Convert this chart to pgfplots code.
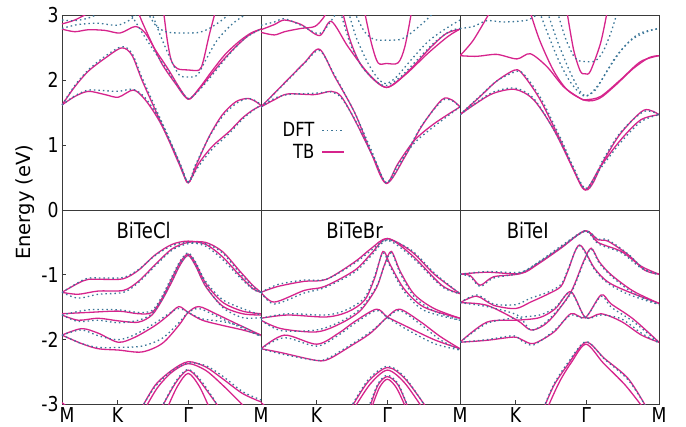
\documentclass[border=0pt]{standalone}
\usepackage{pgfplots}
\pgfplotsset{compat=1.18}
\usepackage{fontspec}
\setmainfont{DejaVu Sans}[FakeStretch=0.84]
\newfontfamily\labelfont{DejaVu Sans}
\definecolor{tbc}{HTML}{D6248C}
\definecolor{dftc}{HTML}{3B7698}
\definecolor{axc}{HTML}{3A3A3A}
\pgfplotsset{
  tb/.style={no markers, smooth, tension=0.5, line width=1.3pt, color=tbc},
  dft/.style={no markers, smooth, tension=0.5, line width=1.3pt, color=dftc, dash pattern=on 1.5pt off 3pt},
  panel/.style={scale only axis, width=199pt, height=389pt,
    xmin=0, xmax=1, ymin=-3, ymax=3,
    axis line style={color=axc, line width=0.8pt},
    tick style={color=axc, line width=0.7pt},
    tick align=inside, major tick length=4pt,
    xtick pos=bottom, ytick pos=left,
    ticklabel style={font=\fontsize{20.5}{22}\selectfont},
    xticklabel style={yshift=0pt},
    extra y ticks={0}, extra y tick labels={},
    extra y tick style={grid=major, major grid style={color=axc, line width=0.8pt}, tick style={draw=none}},
    clip=true,
    legend image code/.code={\draw[##1] (0pt,0pt) -- (22pt,0pt);},
  }
}
\begin{document}
\begin{tikzpicture}
\useasboundingbox (0,0) rectangle (686pt,427pt);
%================ Panel 1: BiTeCl ================
\begin{axis}[panel, at={(62pt,22.5pt)}, anchor=south west,
  xtick={0,0.279,0.634,1}, xticklabels={\hspace*{10pt}M,K,Γ,M},
  ytick={-3,-2,-1,0,1,2,3}, yticklabels={-3,-2,-1,0,1,2,3},
  ylabel={\labelfont\fontsize{19.5}{22}\selectfont Energy (eV)},
  ylabel style={at={(rel axis cs:0,0.52)}, anchor=center, yshift=37pt}]
% TB conduction
\addplot[tb] coordinates {(0,1.62)(0.064,1.90)(0.132,2.14)(0.216,2.34)(0.300,2.50)(0.351,2.39)(0.401,2.01)(0.469,1.54)(0.536,1.08)(0.587,0.72)(0.634,0.42)(0.671,0.67)(0.739,1.13)(0.806,1.47)(0.874,1.67)(0.933,1.72)(0.975,1.67)(1,1.61)};
\addplot[tb] coordinates {(0,1.62)(0.064,1.75)(0.132,1.83)(0.216,1.78)(0.283,1.74)(0.359,1.85)(0.418,1.70)(0.486,1.39)(0.553,0.98)(0.604,0.62)(0.634,0.42)(0.688,0.72)(0.755,0.98)(0.840,1.21)(0.907,1.42)(0.958,1.54)(1,1.61)};
\addplot[tb] coordinates {(0,2.79)(0.064,2.75)(0.132,2.78)(0.216,2.77)(0.292,2.73)(0.368,2.83)(0.418,2.73)(0.469,2.47)(0.536,2.16)(0.587,1.90)(0.634,1.71)(0.671,1.80)(0.739,2.05)(0.806,2.30)(0.874,2.52)(0.941,2.70)(1,2.79)};
\addplot[tb] coordinates {(0.384,3.05)(0.40,2.92)(0.452,2.57)(0.503,2.25)(0.57,1.95)(0.634,1.71)(0.69,1.88)(0.755,2.15)(0.82,2.40)(0.89,2.60)(0.95,2.73)(1,2.79)};
\addplot[tb] coordinates {(0.511,3.05)(0.53,2.6)(0.55,2.3)(0.58,2.18)(0.634,2.16)(0.69,2.16)(0.71,2.3)(0.74,2.7)(0.77,3.05)};
\addplot[tb] coordinates {(0,2.87)(0.064,2.93)(0.14,3.05)};
% TB valence
\addplot[tb] coordinates {(0,-1.27)(0.081,-1.13)(0.132,-1.07)(0.216,-1.07)(0.309,-1.06)(0.384,-0.93)(0.469,-0.69)(0.553,-0.53)(0.634,-0.48)(0.722,-0.53)(0.806,-0.72)(0.890,-1.00)(0.958,-1.21)(1,-1.27)};
\addplot[tb] coordinates {(0,-1.27)(0.081,-1.30)(0.182,-1.25)(0.309,-1.24)(0.384,-1.10)(0.469,-0.84)(0.553,-0.60)(0.634,-0.50)(0.722,-0.50)(0.806,-0.64)(0.890,-0.93)(0.958,-1.16)(1,-1.27)};
\addplot[tb] coordinates {(0,-1.60)(0.132,-1.58)(0.283,-1.56)(0.384,-1.60)(0.452,-1.58)(0.503,-1.36)(0.553,-1.05)(0.595,-0.80)(0.634,-0.68)(0.671,-0.82)(0.722,-1.13)(0.806,-1.42)(0.907,-1.56)(1,-1.60)};
\addplot[tb] coordinates {(0,-1.62)(0.081,-1.70)(0.182,-1.67)(0.283,-1.71)(0.384,-1.73)(0.452,-1.62)(0.503,-1.39)(0.553,-1.10)(0.595,-0.84)(0.634,-0.70)(0.671,-0.86)(0.722,-1.18)(0.806,-1.48)(0.907,-1.60)(1,-1.62)};
\addplot[tb] coordinates {(0,-1.93)(0.098,-1.83)(0.182,-1.90)(0.283,-2.04)(0.368,-1.96)(0.469,-1.78)(0.536,-1.62)(0.587,-1.49)(0.634,-1.58)(0.705,-1.70)(0.806,-1.78)(0.907,-1.85)(1,-1.93)};
\addplot[tb] coordinates {(0,-1.93)(0.098,-2.06)(0.182,-2.14)(0.283,-2.16)(0.401,-2.19)(0.503,-2.06)(0.587,-1.78)(0.634,-1.58)(0.688,-1.49)(0.772,-1.60)(0.874,-1.75)(1,-1.93)};
\addplot[tb] coordinates {(0.401,-3.05)(0.469,-2.70)(0.553,-2.47)(0.634,-2.34)(0.722,-2.42)(0.806,-2.60)(0.907,-2.83)(1,-2.96)};
\addplot[tb] coordinates {(0.42,-3.05)(0.48,-2.74)(0.553,-2.50)(0.634,-2.37)(0.72,-2.47)(0.80,-2.68)(0.88,-2.92)(0.92,-3.05)};
\addplot[tb] coordinates {(0.50,-3.05)(0.56,-2.72)(0.60,-2.55)(0.634,-2.47)(0.67,-2.55)(0.72,-2.75)(0.79,-3.05)};
\addplot[tb] coordinates {(0.53,-3.05)(0.58,-2.72)(0.634,-2.52)(0.69,-2.72)(0.74,-3.05)};
\addplot[tb] coordinates {(0,-2.97)(0.03,-3.05)};
% DFT conduction
\addplot[dft] coordinates {(0,1.62)(0.064,1.92)(0.132,2.16)(0.216,2.37)(0.30,2.52)(0.351,2.42)(0.401,2.05)(0.469,1.58)(0.536,1.12)(0.587,0.74)(0.634,0.43)(0.671,0.70)(0.739,1.12)(0.806,1.44)(0.874,1.64)(0.933,1.72)(0.975,1.68)(1,1.62)};
\addplot[dft] coordinates {(0,1.62)(0.064,1.76)(0.132,1.85)(0.216,1.84)(0.283,1.83)(0.359,1.86)(0.418,1.73)(0.486,1.42)(0.553,1.00)(0.604,0.64)(0.634,0.43)(0.688,0.68)(0.755,0.94)(0.840,1.18)(0.907,1.40)(0.958,1.53)(1,1.62)};
\addplot[dft] coordinates {(0.34,3.05)(0.40,2.75)(0.452,2.5)(0.52,2.2)(0.58,1.92)(0.634,1.72)(0.69,1.85)(0.76,2.10)(0.84,2.40)(0.92,2.65)(1,2.79)};
\addplot[dft] coordinates {(0.45,3.05)(0.50,2.65)(0.55,2.30)(0.59,2.08)(0.634,2.05)(0.68,2.08)(0.72,2.30)(0.78,2.62)(0.86,2.88)(0.94,3.05)};
\addplot[dft] coordinates {(0.43,3.05)(0.47,2.85)(0.52,2.75)(0.58,2.73)(0.634,2.73)(0.69,2.74)(0.74,2.80)(0.80,2.92)(0.85,3.05)};
\addplot[dft] coordinates {(0,2.93)(0.064,2.92)(0.132,2.96)(0.2,3.05)};
\addplot[dft] coordinates {(0,2.80)(0.08,2.86)(0.18,2.88)(0.28,2.85)(0.35,2.95)(0.38,3.05)};
% DFT valence
\addplot[dft] coordinates {(0,-1.27)(0.081,-1.12)(0.132,-1.05)(0.216,-1.05)(0.309,-1.04)(0.384,-0.92)(0.469,-0.70)(0.553,-0.55)(0.634,-0.50)(0.722,-0.56)(0.806,-0.76)(0.890,-1.03)(0.958,-1.22)(1,-1.27)};
\addplot[dft] coordinates {(0,-1.27)(0.081,-1.36)(0.182,-1.30)(0.309,-1.27)(0.384,-1.12)(0.469,-0.86)(0.553,-0.62)(0.634,-0.52)(0.722,-0.52)(0.806,-0.66)(0.890,-0.96)(0.958,-1.18)(1,-1.27)};
\addplot[dft] coordinates {(0,-1.62)(0.132,-1.54)(0.283,-1.54)(0.384,-1.58)(0.452,-1.55)(0.503,-1.33)(0.553,-1.02)(0.595,-0.78)(0.634,-0.66)(0.671,-0.80)(0.722,-1.10)(0.806,-1.38)(0.907,-1.52)(1,-1.62)};
\addplot[dft] coordinates {(0,-1.62)(0.081,-1.72)(0.182,-1.70)(0.283,-1.74)(0.384,-1.70)(0.452,-1.60)(0.503,-1.38)(0.553,-1.08)(0.595,-0.83)(0.634,-0.70)(0.671,-0.85)(0.722,-1.16)(0.806,-1.50)(0.907,-1.66)(1,-1.66)};
\addplot[dft] coordinates {(0,-1.93)(0.098,-1.85)(0.182,-1.94)(0.283,-2.00)(0.368,-1.92)(0.469,-1.74)(0.536,-1.60)(0.587,-1.52)(0.634,-1.58)(0.705,-1.68)(0.806,-1.72)(0.907,-1.80)(1,-1.95)};
\addplot[dft] coordinates {(0,-1.93)(0.098,-2.06)(0.182,-2.12)(0.283,-2.12)(0.401,-2.10)(0.503,-1.98)(0.587,-1.74)(0.634,-1.58)(0.688,-1.52)(0.772,-1.63)(0.874,-1.78)(1,-1.95)};
\addplot[dft] coordinates {(0.40,-3.05)(0.469,-2.72)(0.553,-2.48)(0.634,-2.36)(0.722,-2.40)(0.806,-2.56)(0.907,-2.80)(1,-2.93)};
\addplot[dft] coordinates {(0.50,-3.05)(0.56,-2.70)(0.60,-2.53)(0.634,-2.46)(0.67,-2.53)(0.72,-2.72)(0.79,-3.05)};
\node[font=\fontsize{21.5}{24}\selectfont] at (axis cs:0.41,-0.31) {BiTeCl};
\end{axis}
%================ Panel 2: BiTeBr ================
\begin{axis}[panel, at={(261pt,22.5pt)}, anchor=south west,
  xtick={0.279,0.634,1}, xticklabels={K,Γ,M},
  ytick=\empty,
  legend style={draw=none, fill=none, at={(0.26,0.677)}, anchor=center,
    font=\fontsize{19.5}{21}\selectfont, row sep=2pt, column sep=5pt, inner sep=0pt},
  legend cell align=right, legend plot pos=right]
\addlegendimage{dft}\addlegendentry{DFT}
\addlegendimage{tb}\addlegendentry{TB}
% TB conduction
\addplot[tb, forget plot] coordinates {(0,1.59)(0.134,2.01)(0.218,2.27)(0.294,2.48)(0.370,2.06)(0.471,1.50)(0.555,0.87)(0.630,0.41)(0.723,0.82)(0.807,1.29)(0.908,1.70)(0.958,1.70)(1,1.59)};
\addplot[tb, forget plot] coordinates {(0,1.59)(0.067,1.70)(0.134,1.79)(0.269,1.78)(0.353,1.83)(0.403,1.75)(0.471,1.39)(0.571,0.77)(0.630,0.41)(0.689,0.72)(0.773,1.08)(0.874,1.34)(1,1.59)};
\addplot[tb, forget plot] coordinates {(0,2.78)(0.067,2.86)(0.118,2.93)(0.202,2.86)(0.294,2.69)(0.353,2.91)(0.437,2.52)(0.538,2.11)(0.630,1.89)(0.723,2.08)(0.840,2.42)(0.941,2.68)(1,2.79)};
\addplot[tb, forget plot] coordinates {(0,2.74)(0.067,2.70)(0.118,2.75)(0.20,2.80)(0.27,2.83)(0.31,2.95)(0.33,3.05)};
\addplot[tb, forget plot] coordinates {(0.41,3.05)(0.45,2.6)(0.50,2.25)(0.57,2.0)(0.630,1.89)(0.69,2.0)(0.76,2.2)(0.85,2.5)(0.93,2.72)(1,2.79)};
\addplot[tb, forget plot] coordinates {(0.521,3.05)(0.555,2.57)(0.588,2.27)(0.630,2.26)(0.689,2.27)(0.723,2.52)(0.756,3.05)};
% TB valence
\addplot[tb, forget plot] coordinates {(0,-1.27)(0.084,-1.18)(0.218,-1.10)(0.328,-1.07)(0.471,-0.80)(0.555,-0.59)(0.635,-0.44)(0.756,-0.64)(0.874,-1.00)(1,-1.29)};
\addplot[tb, forget plot] coordinates {(0,-1.27)(0.067,-1.42)(0.218,-1.24)(0.319,-1.18)(0.471,-0.93)(0.555,-0.67)(0.635,-0.44)(0.756,-0.69)(0.908,-1.16)(1,-1.29)};
\addplot[tb, forget plot] coordinates {(0,-1.67)(0.134,-1.62)(0.328,-1.65)(0.437,-1.57)(0.521,-1.39)(0.571,-1.05)(0.613,-0.64)(0.65,-0.85)(0.72,-1.22)(0.82,-1.50)(1,-1.67)};
\addplot[tb, forget plot] coordinates {(0,-1.70)(0.101,-1.83)(0.28,-1.88)(0.40,-1.75)(0.50,-1.55)(0.58,-1.20)(0.62,-0.85)(0.655,-0.64)(0.70,-0.95)(0.77,-1.30)(0.87,-1.52)(1,-1.67)};
\addplot[tb, forget plot] coordinates {(0,-2.14)(0.118,-1.93)(0.28,-2.07)(0.39,-1.90)(0.471,-1.72)(0.58,-1.53)(0.635,-1.65)(0.72,-1.78)(0.87,-2.0)(1,-2.14)};
\addplot[tb, forget plot] coordinates {(0,-2.14)(0.101,-2.20)(0.277,-2.32)(0.34,-2.30)(0.45,-2.10)(0.55,-1.90)(0.635,-1.65)(0.697,-1.53)(0.80,-1.72)(0.90,-1.95)(1,-2.14)};
\addplot[tb, forget plot] coordinates {(0.454,-3.05)(0.538,-2.65)(0.635,-2.43)(0.723,-2.60)(0.832,-3.05)};
\addplot[tb, forget plot] coordinates {(0.47,-3.05)(0.55,-2.68)(0.635,-2.47)(0.72,-2.66)(0.81,-3.05)};
\addplot[tb, forget plot] coordinates {(0.546,-3.05)(0.588,-2.70)(0.635,-2.57)(0.689,-2.70)(0.739,-3.05)};
\addplot[tb, forget plot] coordinates {(0.556,-3.05)(0.595,-2.74)(0.635,-2.61)(0.680,-2.74)(0.728,-3.05)};
\addplot[tb, forget plot] coordinates {(0,-2.97)(0.03,-3.05)};
% DFT conduction
\addplot[dft, forget plot] coordinates {(0,1.59)(0.134,2.00)(0.218,2.26)(0.294,2.46)(0.370,2.08)(0.471,1.50)(0.555,0.92)(0.630,0.42)(0.723,0.84)(0.807,1.30)(0.908,1.68)(0.958,1.69)(1,1.59)};
\addplot[dft, forget plot] coordinates {(0,1.59)(0.067,1.72)(0.134,1.78)(0.269,1.80)(0.353,1.82)(0.403,1.73)(0.471,1.40)(0.571,0.78)(0.630,0.42)(0.689,0.70)(0.773,1.04)(0.874,1.30)(1,1.59)};
\addplot[dft, forget plot] coordinates {(0.44,3.05)(0.48,2.65)(0.54,2.25)(0.59,2.02)(0.630,1.95)(0.68,2.05)(0.75,2.30)(0.84,2.60)(0.93,2.80)(1,2.93)};
\addplot[dft, forget plot] coordinates {(0.47,3.05)(0.52,2.75)(0.57,2.63)(0.630,2.62)(0.70,2.63)(0.75,2.72)(0.82,2.90)(0.87,3.05)};
\addplot[dft, forget plot] coordinates {(0,2.85)(0.067,2.90)(0.118,2.95)(0.20,2.85)(0.294,2.72)(0.353,2.92)(0.38,3.05)};
\addplot[dft, forget plot] coordinates {(0.40,3.05)(0.45,2.55)(0.51,2.20)(0.58,1.98)(0.630,1.92)(0.70,2.05)(0.78,2.30)(0.87,2.58)(0.95,2.76)(1,2.80)};
% DFT valence
\addplot[dft, forget plot] coordinates {(0,-1.27)(0.084,-1.15)(0.218,-1.08)(0.328,-1.07)(0.471,-0.82)(0.555,-0.62)(0.635,-0.46)(0.756,-0.62)(0.874,-0.98)(1,-1.29)};
\addplot[dft, forget plot] coordinates {(0,-1.27)(0.067,-1.45)(0.218,-1.28)(0.319,-1.20)(0.471,-0.96)(0.555,-0.70)(0.635,-0.47)(0.756,-0.72)(0.908,-1.18)(1,-1.29)};
\addplot[dft, forget plot] coordinates {(0,-1.67)(0.134,-1.60)(0.328,-1.62)(0.437,-1.53)(0.521,-1.35)(0.571,-1.02)(0.613,-0.66)(0.65,-0.88)(0.72,-1.26)(0.82,-1.55)(1,-1.70)};
\addplot[dft, forget plot] coordinates {(0,-1.70)(0.101,-1.86)(0.28,-1.85)(0.40,-1.72)(0.50,-1.52)(0.58,-1.18)(0.62,-0.86)(0.655,-0.66)(0.70,-0.98)(0.77,-1.34)(0.87,-1.56)(1,-1.70)};
\addplot[dft, forget plot] coordinates {(0,-2.14)(0.118,-1.97)(0.28,-2.10)(0.39,-1.93)(0.471,-1.75)(0.58,-1.55)(0.635,-1.66)(0.72,-1.82)(0.87,-2.06)(1,-2.16)};
\addplot[dft, forget plot] coordinates {(0,-2.14)(0.101,-2.22)(0.277,-2.32)(0.34,-2.28)(0.45,-2.08)(0.55,-1.88)(0.635,-1.66)(0.697,-1.55)(0.80,-1.76)(0.90,-2.00)(1,-2.16)};
\addplot[dft, forget plot] coordinates {(0.45,-3.05)(0.538,-2.62)(0.635,-2.41)(0.723,-2.58)(0.83,-3.05)};
\addplot[dft, forget plot] coordinates {(0.54,-3.05)(0.588,-2.68)(0.635,-2.55)(0.689,-2.68)(0.74,-3.05)};
\node[font=\fontsize{21.5}{24}\selectfont] at (axis cs:0.47,-0.31) {BiTeBr};
\end{axis}
%================ Panel 3: BiTeI ================
\begin{axis}[panel, at={(460pt,22.5pt)}, anchor=south west,
  xtick={0.279,0.634,1}, xticklabels={K,Γ,M},
  ytick=\empty]
% TB conduction
\addplot[tb] coordinates {(0,1.47)(0.101,1.75)(0.185,1.99)(0.277,2.16)(0.319,2.08)(0.403,1.70)(0.504,1.08)(0.630,0.31)(0.723,0.77)(0.807,1.18)(0.924,1.54)(1,1.47)};
\addplot[tb] coordinates {(0,1.47)(0.084,1.65)(0.168,1.80)(0.277,1.86)(0.370,1.70)(0.471,1.24)(0.571,0.62)(0.630,0.31)(0.706,0.67)(0.807,1.08)(0.908,1.39)(1,1.47)};
\addplot[tb] coordinates {(0,2.38)(0.084,2.37)(0.185,2.40)(0.286,2.33)(0.353,2.41)(0.437,2.21)(0.521,1.90)(0.605,1.72)(0.630,1.70)(0.706,1.75)(0.807,2.01)(0.908,2.29)(1,2.38)};
\addplot[tb] coordinates {(0,2.38)(0.067,2.62)(0.15,3.05)};
\addplot[tb] coordinates {(0.353,3.05)(0.40,2.62)(0.47,2.15)(0.54,1.85)(0.630,1.69)(0.70,1.72)(0.78,1.92)(0.87,2.18)(0.95,2.35)(1,2.38)};
\addplot[tb] coordinates {(0.538,3.05)(0.571,2.47)(0.605,2.14)(0.630,2.10)(0.655,2.14)(0.706,2.57)(0.739,3.05)};
% TB valence
\addplot[tb] coordinates {(0,-0.99)(0.051,-1.01)(0.101,-1.16)(0.169,-1.03)(0.304,-0.98)(0.405,-0.80)(0.524,-0.54)(0.630,-0.32)(0.693,-0.46)(0.743,-0.48)(0.845,-0.69)(0.929,-0.93)(1,-0.99)};
\addplot[tb] coordinates {(0,-0.99)(0.135,-0.96)(0.304,-0.98)(0.389,-0.84)(0.507,-0.59)(0.630,-0.32)(0.693,-0.50)(0.811,-0.64)(0.912,-0.87)(1,-0.99)};
\addplot[tb] coordinates {(0,-1.43)(0.084,-1.33)(0.169,-1.47)(0.279,-1.52)(0.355,-1.42)(0.44,-1.30)(0.507,-1.18)(0.541,-0.95)(0.60,-0.54)(0.676,-0.90)(0.743,-1.11)(0.845,-1.26)(1,-1.44)};
\addplot[tb] coordinates {(0,-1.43)(0.135,-1.47)(0.287,-1.70)(0.355,-1.85)(0.42,-1.78)(0.48,-1.60)(0.56,-1.25)(0.62,-0.80)(0.659,-0.59)(0.70,-0.80)(0.76,-1.00)(0.87,-1.25)(1,-1.44)};
\addplot[tb] coordinates {(0,-2.04)(0.135,-1.73)(0.287,-1.70)(0.40,-1.66)(0.48,-1.52)(0.557,-1.26)(0.630,-1.66)(0.709,-1.60)(0.811,-1.72)(0.912,-1.93)(1,-2.04)};
\addplot[tb] coordinates {(0,-2.04)(0.135,-2.01)(0.27,-1.96)(0.31,-2.00)(0.37,-2.06)(0.473,-1.88)(0.557,-1.60)(0.630,-1.66)(0.709,-1.31)(0.76,-1.45)(0.87,-1.68)(1,-2.04)};
\addplot[tb] coordinates {(0.422,-3.05)(0.473,-2.70)(0.541,-2.39)(0.633,-2.04)(0.726,-2.29)(0.845,-2.60)(0.938,-3.05)};
\addplot[tb] coordinates {(0.44,-3.05)(0.50,-2.65)(0.56,-2.35)(0.633,-2.07)(0.72,-2.36)(0.83,-2.70)(0.92,-3.05)};
% DFT conduction
\addplot[dft] coordinates {(0,1.47)(0.101,1.76)(0.185,1.99)(0.277,2.13)(0.319,2.10)(0.403,1.74)(0.504,1.12)(0.630,0.33)(0.723,0.80)(0.807,1.20)(0.924,1.52)(1,1.47)};
\addplot[dft] coordinates {(0,1.47)(0.084,1.66)(0.168,1.82)(0.277,1.88)(0.370,1.72)(0.471,1.24)(0.571,0.65)(0.630,0.33)(0.706,0.64)(0.807,1.04)(0.908,1.36)(1,1.47)};
\addplot[dft] coordinates {(0.49,3.05)(0.53,2.65)(0.57,2.38)(0.60,2.30)(0.630,2.29)(0.68,2.30)(0.72,2.45)(0.76,2.75)(0.79,3.05)};
\addplot[dft] coordinates {(0.40,3.05)(0.45,2.65)(0.50,2.28)(0.56,1.95)(0.630,1.75)(0.70,1.95)(0.78,2.35)(0.86,2.62)(0.94,2.75)(1,2.80)};
\addplot[dft] coordinates {(0.44,3.05)(0.49,2.60)(0.55,2.15)(0.60,1.85)(0.630,1.76)(0.68,1.85)(0.74,2.15)(0.82,2.50)(0.90,2.72)(1,2.80)};
\addplot[dft] coordinates {(0,2.80)(0.067,2.83)(0.135,2.92)(0.22,2.90)(0.34,2.93)(0.40,3.05)};
% DFT valence
\addplot[dft] coordinates {(0,-0.99)(0.051,-1.03)(0.101,-1.18)(0.169,-1.05)(0.304,-0.97)(0.405,-0.78)(0.524,-0.52)(0.630,-0.32)(0.693,-0.45)(0.743,-0.46)(0.845,-0.68)(0.929,-0.92)(1,-0.99)};
\addplot[dft] coordinates {(0,-0.99)(0.135,-0.95)(0.304,-0.96)(0.389,-0.82)(0.507,-0.58)(0.630,-0.33)(0.693,-0.52)(0.811,-0.66)(0.912,-0.90)(1,-1.0)};
\addplot[dft] coordinates {(0,-1.43)(0.084,-1.31)(0.169,-1.45)(0.279,-1.46)(0.355,-1.36)(0.44,-1.27)(0.507,-1.15)(0.541,-0.93)(0.60,-0.55)(0.676,-0.92)(0.743,-1.13)(0.845,-1.30)(1,-1.46)};
\addplot[dft] coordinates {(0,-1.43)(0.135,-1.49)(0.287,-1.62)(0.355,-1.85)(0.42,-1.76)(0.48,-1.58)(0.56,-1.27)(0.62,-0.82)(0.659,-0.60)(0.70,-0.82)(0.76,-1.02)(0.87,-1.28)(1,-1.46)};
\addplot[dft] coordinates {(0,-2.04)(0.135,-1.75)(0.287,-1.66)(0.40,-1.62)(0.48,-1.50)(0.557,-1.27)(0.630,-1.66)(0.709,-1.62)(0.811,-1.68)(0.912,-1.90)(1,-2.05)};
\addplot[dft] coordinates {(0,-2.04)(0.135,-2.0)(0.27,-1.94)(0.31,-2.02)(0.37,-2.08)(0.473,-1.86)(0.557,-1.62)(0.630,-1.66)(0.709,-1.33)(0.76,-1.50)(0.87,-1.72)(1,-2.05)};
\addplot[dft] coordinates {(0.42,-3.05)(0.473,-2.68)(0.541,-2.36)(0.633,-2.03)(0.726,-2.30)(0.845,-2.62)(0.938,-3.05)};
\node[font=\fontsize{21.5}{24}\selectfont] at (axis cs:0.34,-0.31) {BiTeI};
\end{axis}
\end{tikzpicture}
\end{document}
